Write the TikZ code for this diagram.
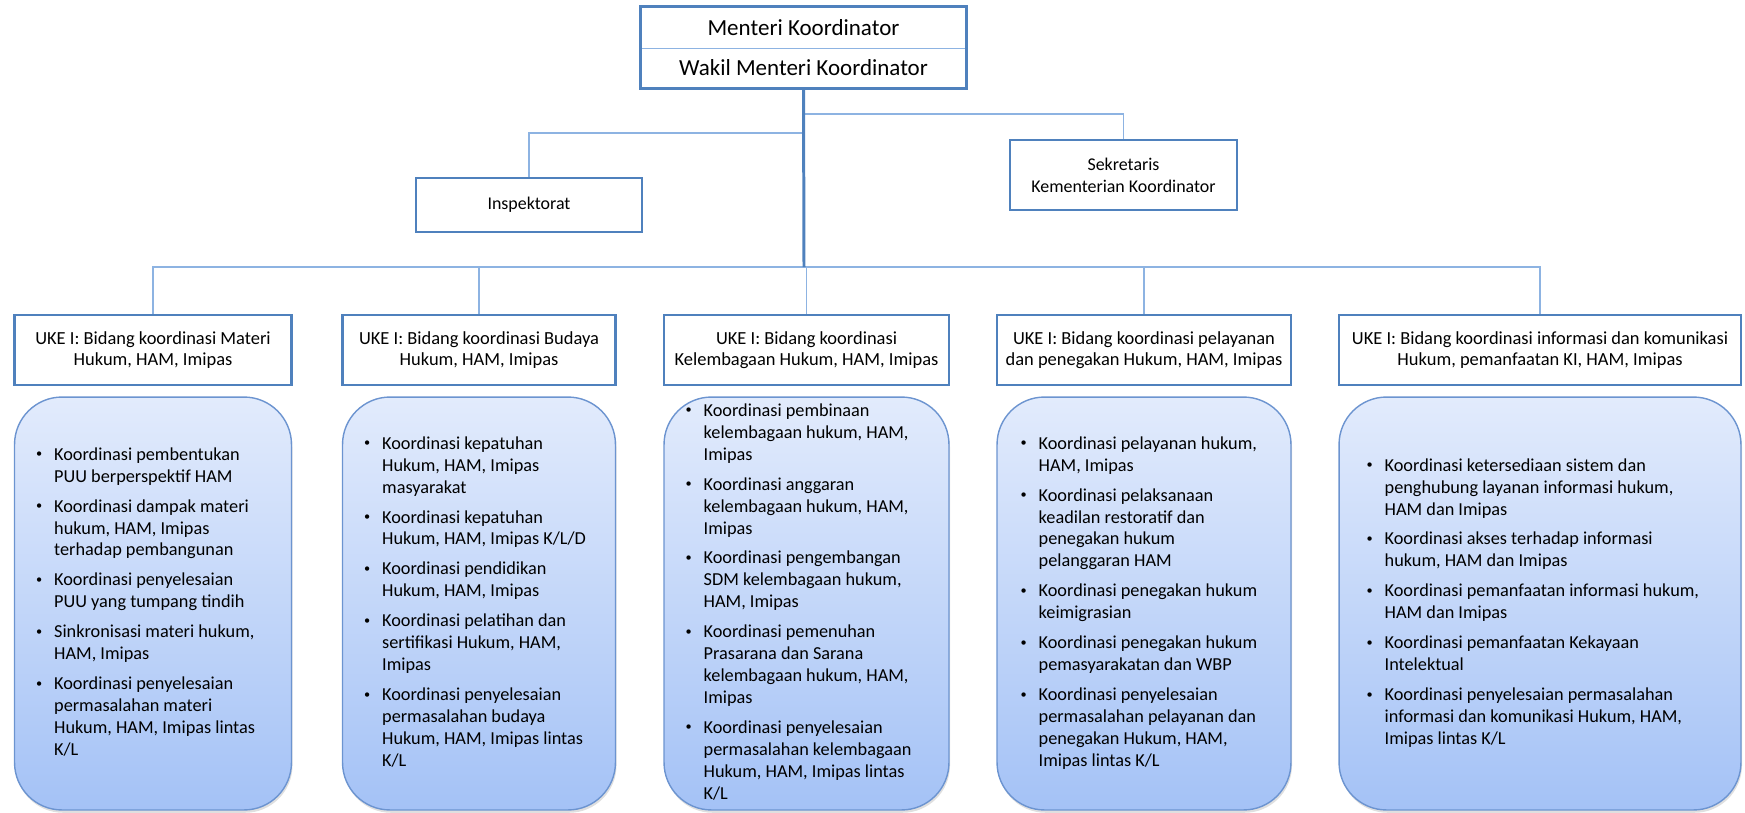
\documentclass[tikz,border=0pt]{standalone}
\usepackage{fontspec}
\setmainfont{Carlito}
\usepackage{tikz}
\usetikzlibrary{positioning}
\usetikzlibrary{shadows}
\definecolor{orgblue}{RGB}{79,129,189}
\definecolor{linkblue}{RGB}{141,179,226}
\definecolor{boxedge}{RGB}{108,148,208}
\definecolor{boxtop}{RGB}{226,235,252}
\definecolor{boxbottom}{RGB}{164,194,246}
\newcommand{\bul}{\raisebox{0.15em}{\fontsize{7pt}{7pt}\selectfont\textbullet}}
\tikzstyle{unit} = [rectangle, 
draw=orgblue, line width=1.5pt, fill=white, 
minimum height=1.4cm, inner sep=0pt, align=center, 
font=\fontsize{10.5pt}{12pt}\selectfont]
\tikzstyle{staff} = [unit, font=\fontsize{10.2pt}{12.5pt}\selectfont]
\tikzstyle{head} = [rectangle, minimum width=6.5cm, inner sep=0pt, font=\fontsize{13.1pt}{15pt}\selectfont]
\tikzstyle{taskbox} = [rectangle, rounded corners=0.95cm, 
draw=boxedge, line width=0.8pt, top color=boxtop, bottom color=boxbottom, 
minimum height=8.26cm, 
drop shadow={shadow xshift=0.6pt, shadow yshift=-1.6pt, opacity=0.25}]
\tikzstyle{tasks} = [inner sep=0pt, anchor=west, font=\fontsize{10.4pt}{12.5pt}\selectfont]
\tikzstyle{trunk} = [orgblue, line width=1.7pt]
\tikzstyle{branch} = [linkblue, line width=0.9pt]

\begin{document}
\begin{tikzpicture}[x=0.02cm, y=-0.02cm]
    \useasboundingbox (0,0) rectangle (1745,812);

    % pimpinan
    \node[head, minimum height=0.82cm] (menko) at (803.5,27.5) {Menteri Koordinator};
    \node[head, minimum height=0.8cm] (wamenko) at (803.5,68) {Wakil Menteri Koordinator};
    \draw[linkblue, line width=0.6pt] (menko.south west) -- (menko.south east);
    \draw[orgblue, line width=1.5pt] (menko.north west) rectangle (wamenko.south east);

    % inspektorat dan sekretariat
    \node[staff, minimum width=4.52cm, minimum height=1.08cm] (insp) at (529,205) {Inspektorat};
    \node[staff, minimum width=4.54cm] (sekr) at (1123.5,175) {Sekretaris\\Kementerian Koordinator};

    % UKE I
    \node[unit, minimum width=5.54cm] (h1) at (153,350) {UKE I: Bidang koordinasi Materi\\Hukum, HAM, Imipas};
    \node[unit, minimum width=5.46cm] (h2) at (479,350) {UKE I: Bidang koordinasi Budaya\\Hukum, HAM, Imipas};
    \node[unit, minimum width=5.7cm] (h3) at (806.5,350) {UKE I: Bidang koordinasi\\Kelembagaan Hukum, HAM, Imipas};
    \node[unit, minimum width=5.88cm] (h4) at (1144,350) {UKE I: Bidang koordinasi pelayanan\\dan penegakan Hukum, HAM, Imipas};
    \node[unit, minimum width=8.04cm] (h5) at (1540,350) {UKE I: Bidang koordinasi informasi dan komunikasi\\Hukum, pemanfaatan KI, HAM, Imipas};

    % connectors
    \coordinate (jsek) at (804,114);
    \coordinate (jinsp) at (804,133);
    \coordinate (fork) at (804,267);
    \draw[branch] (jsek) -| (sekr.north);
    \draw[branch] (jinsp) -| (insp.north);
    \foreach \h in {h1,h2,h3,h4,h5}
        \draw[branch] (fork) -| (\h.north);
    \draw[trunk] (wamenko.south) -- (fork);

    % tugas
    \node[taskbox, minimum width=5.54cm] (b1) at (153,603.5) {};
    \node[taskbox, minimum width=5.46cm] (b2) at (479,603.5) {};
    \node[taskbox, minimum width=5.7cm] (b3) at (806.5,603.5) {};
    \node[taskbox, minimum width=5.88cm] (b4) at (1144,603.5) {};
    \node[taskbox, minimum width=8.04cm] (b5) at (1540,603.5) {};

    \node[tasks, right=0.44cm of b1.west] (t1) {\begin{tabular}{@{}p{0.36cm}@{}l@{}}
        \bul & Koordinasi pembentukan\\
         & PUU berperspektif HAM\\[0.16cm]
        \bul & Koordinasi dampak materi\\
         & hukum, HAM, Imipas\\
         & terhadap pembangunan\\[0.16cm]
        \bul & Koordinasi penyelesaian\\
         & PUU yang tumpang tindih\\[0.16cm]
        \bul & Sinkronisasi materi hukum,\\
         & HAM, Imipas\\[0.16cm]
        \bul & Koordinasi penyelesaian\\
         & permasalahan materi\\
         & Hukum, HAM, Imipas lintas\\
         & K/L
    \end{tabular}};

    \node[tasks, right=0.44cm of b2.west] (t2) {\begin{tabular}{@{}p{0.36cm}@{}l@{}}
        \bul & Koordinasi kepatuhan\\
         & Hukum, HAM, Imipas\\
         & masyarakat\\[0.16cm]
        \bul & Koordinasi kepatuhan\\
         & Hukum, HAM, Imipas K/L/D\\[0.16cm]
        \bul & Koordinasi pendidikan\\
         & Hukum, HAM, Imipas\\[0.16cm]
        \bul & Koordinasi pelatihan dan\\
         & sertifikasi Hukum, HAM,\\
         & Imipas\\[0.16cm]
        \bul & Koordinasi penyelesaian\\
         & permasalahan budaya\\
         & Hukum, HAM, Imipas lintas\\
         & K/L
    \end{tabular}};

    \node[tasks, right=0.44cm of b3.west] (t3) {\begin{tabular}{@{}p{0.36cm}@{}l@{}}
        \bul & Koordinasi pembinaan\\
         & kelembagaan hukum, HAM,\\
         & Imipas\\[0.16cm]
        \bul & Koordinasi anggaran\\
         & kelembagaan hukum, HAM,\\
         & Imipas\\[0.16cm]
        \bul & Koordinasi pengembangan\\
         & SDM kelembagaan hukum,\\
         & HAM, Imipas\\[0.16cm]
        \bul & Koordinasi pemenuhan\\
         & Prasarana dan Sarana\\
         & kelembagaan hukum, HAM,\\
         & Imipas\\[0.16cm]
        \bul & Koordinasi penyelesaian\\
         & permasalahan kelembagaan\\
         & Hukum, HAM, Imipas lintas\\
         & K/L
    \end{tabular}};

    \node[tasks, right=0.48cm of b4.west] (t4) {\begin{tabular}{@{}p{0.36cm}@{}l@{}}
        \bul & Koordinasi pelayanan hukum,\\
         & HAM, Imipas\\[0.16cm]
        \bul & Koordinasi pelaksanaan\\
         & keadilan restoratif dan\\
         & penegakan hukum\\
         & pelanggaran HAM\\[0.16cm]
        \bul & Koordinasi penegakan hukum\\
         & keimigrasian\\[0.16cm]
        \bul & Koordinasi penegakan hukum\\
         & pemasyarakatan dan WBP\\[0.16cm]
        \bul & Koordinasi penyelesaian\\
         & permasalahan pelayanan dan\\
         & penegakan Hukum, HAM,\\
         & Imipas lintas K/L
    \end{tabular}};

    \node[tasks, right=0.56cm of b5.west] (t5) {\begin{tabular}{@{}p{0.36cm}@{}l@{}}
        \bul & Koordinasi ketersediaan sistem dan\\
         & penghubung layanan informasi hukum,\\
         & HAM dan Imipas\\[0.16cm]
        \bul & Koordinasi akses terhadap informasi\\
         & hukum, HAM dan Imipas\\[0.16cm]
        \bul & Koordinasi pemanfaatan informasi hukum,\\
         & HAM dan Imipas\\[0.16cm]
        \bul & Koordinasi pemanfaatan Kekayaan\\
         & Intelektual\\[0.16cm]
        \bul & Koordinasi penyelesaian permasalahan\\
         & informasi dan komunikasi Hukum, HAM,\\
         & Imipas lintas K/L
    \end{tabular}};
\end{tikzpicture}
\end{document}
